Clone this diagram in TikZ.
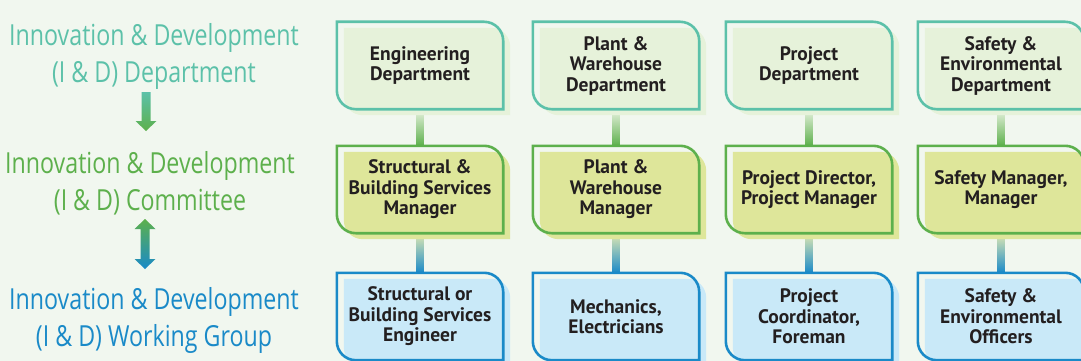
\documentclass[tikz,border=0pt]{standalone}
\usepackage{fontspec}
\setmainfont{PT Sans}
\newfontfamily\handfont[FakeStretch=0.8]{Open Sans}
\usetikzlibrary{positioning}
\usetikzlibrary{calc}
\usetikzlibrary{backgrounds}
\definecolor{paper}{HTML}{F1F7EF}
\definecolor{inkdark}{HTML}{231F20}
\definecolor{tealline}{HTML}{5CC1A9}
\definecolor{greenline}{HTML}{5DB04C}
\definecolor{blueline}{HTML}{1A8AC8}
\definecolor{deptfill}{HTML}{E6F2DA}
\definecolor{mgrfill}{HTML}{DEE69A}
\definecolor{stafffill}{HTML}{C9E9F8}
\definecolor{paleline}{HTML}{E6F1DE}
\definecolor{yellowline}{HTML}{E0E8B2}

\pgfdeclarelayer{boxes}
\pgfsetlayers{background,boxes,main}

% outline with two rounded corners
\newcommand{\unitpath}[1]{(#1.north west) -- ([xshift=-19pt]#1.north east) arc[start angle=90, end angle=0, radius=19pt] -- (#1.south east) -- ([xshift=19pt]#1.south west) arc[start angle=270, end angle=180, radius=19pt] -- cycle}

\tikzset{
  unit/.style={minimum width=166pt, minimum height=87pt, inner sep=0pt, align=center,
    text=inkdark, font=\bfseries\fontsize{19.5}{20.5}\selectfont},
  handtext/.style={align=center, inner sep=0pt, font=\handfont\fontsize{29}{37}\selectfont},
  edge/.style={line width=2.6pt},
  offset/.style={transform canvas={shift={(7pt,-6pt)}}}
}

\begin{document}
\begin{tikzpicture}[x=1pt, y=1pt]
\begin{pgfonlayer}{background}
\fill[paper] (0,0) rectangle (1081,-361);
\end{pgfonlayer}
\useasboundingbox (0,0) rectangle (1081,-361);

% left column
\node[handtext, text=tealline] (iddept) at (154,-56) {Innovation \& Development\\(I \& D) Department};
\node[handtext, text=greenline] (idcomm) at (150,-183) {Innovation \& Development\\(I \& D) Committee};
\node[handtext, text=blueline] (idwork) at (154,-320) {Innovation \& Development\\(I \& D) Working Group};

\coordinate (arrA) at (146,-92);
\coordinate (arrB) at (145,-219);
\shade[top color=tealline, bottom color=greenline] (arrA) ++(-4.5,0) -- ++(9,0) -- ++(0,-29) -- ++(6,0) -- ++(-10.5,-10) -- ++(-10.5,10) -- ++(6,0) -- cycle;
\shade[top color=greenline, bottom color=blueline] (arrB) -- ++(10.5,-10) -- ++(-6,0) -- ++(0,-30) -- ++(6,0) -- ++(-10.5,-10) -- ++(-10.5,10) -- ++(6,0) -- ++(0,30) -- ++(-6,0) -- cycle;

% boxes
\foreach \name/\cx/\txt in {eng/420/{Engineering\\Department}, plant/616/{Plant \&\\Warehouse\\Department}, proj/809/{Project\\Department}, safe/1001/{Safety \&\\Environmental\\Department}} {
  \node[unit] (\name) at (\cx,-65.5) {\txt};
  \begin{pgfonlayer}{boxes}
  \fill[deptfill, offset] \unitpath{\name};
  \draw[edge, tealline] \unitpath{\name};
  \end{pgfonlayer}
}
\foreach \name/\cx/\txt in {engm/420/{Structural \&\\Building Services\\Manager}, plantm/616/{Plant \&\\Warehouse\\Manager}, projm/809/{Project Director,\\Project Manager}, safem/1001/{Safety Manager,\\Manager}} {
  \node[unit] (\name) at (\cx,-189.5) {\txt};
  \begin{pgfonlayer}{boxes}
  \fill[mgrfill, offset] \unitpath{\name};
  \draw[edge, greenline] \unitpath{\name};
  \end{pgfonlayer}
}
\foreach \name/\cx/\txt in {engs/420/{Structural or\\Building Services\\Engineer}, plants/616/{Mechanics,\\Electricians}, projs/809/{Project\\Coordinator,\\Foreman}, safes/1001/{Safety \&\\Environmental\\Officers}} {
  \node[unit] (\name) at (\cx,-316.5) {\txt};
  \begin{pgfonlayer}{boxes}
  \fill[stafffill, offset] \unitpath{\name};
  \draw[edge, blueline] \unitpath{\name};
  \end{pgfonlayer}
}

% connectors
\begin{pgfonlayer}{background}
\foreach \top/\mid/\low in {eng/engm/engs, plant/plantm/plants, proj/projm/projs, safe/safem/safes} {
  \shade[top color=paleline, bottom color=greenline] ($(\top.south)+(-3.5,0)$) rectangle ($(\mid.north)+(3.5,0)$);
  \shade[top color=yellowline, bottom color=blueline] ($(\mid.south)+(-3.5,0)$) rectangle ($(\low.north)+(3.5,0)$);
}
\end{pgfonlayer}
\end{tikzpicture}
\end{document}
